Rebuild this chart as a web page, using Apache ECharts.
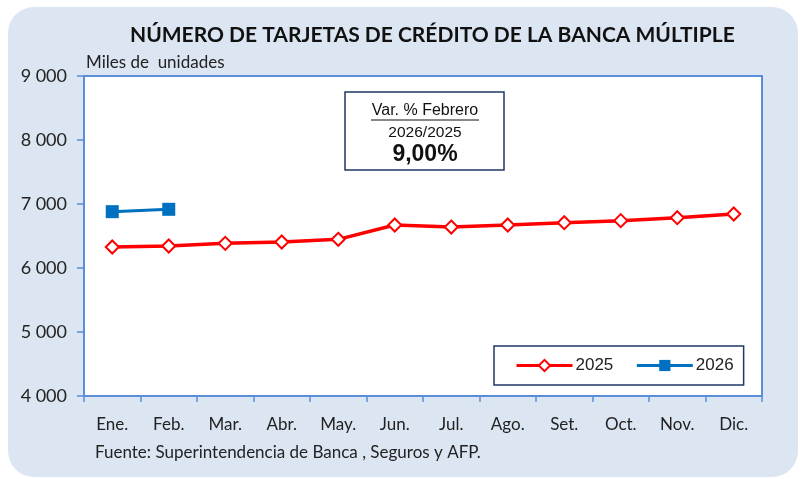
<!DOCTYPE html>
<html>
<head>
<meta charset="utf-8">
<script src="https://cdn.jsdelivr.net/npm/echarts@6/dist/echarts.min.js"></script>
<style>
html, body { margin: 0; padding: 0; background: #fff; }
#chart { width: 803px; height: 479px; }
</style>
</head>
<body>
<div id="chart"></div>
<script>
var months = ['Ene.', 'Feb.', 'Mar.', 'Abr.', 'May.', 'Jun.', 'Jul.', 'Ago.', 'Set.', 'Oct.', 'Nov.', 'Dic.'];
var data2025 = [6328, 6344, 6385, 6406, 6448, 6672, 6640, 6672, 6708, 6740, 6786, 6844];
var data2026 = [6880, 6917];
var yTicks = [4000, 5000, 6000, 7000, 8000, 9000];

var myChart = echarts.init(document.getElementById('chart'));
var axisBlue = '#5B8ED8';
var navy = '#1F3864';

option = {
    backgroundColor: '#fff',
    textStyle: { fontFamily: 'Lato' },
    graphic: [
        {
            type: 'rect', z: -10,
            shape: { x: 8, y: 7, width: 790, height: 470, r: 26 },
            style: { fill: '#DCE6F2' }
        },
        {
            type: 'text', left: 130, top: 25,
            style: { text: 'NÚMERO DE TARJETAS DE CRÉDITO DE LA BANCA MÚLTIPLE', font: 'bold 21px Lato', fill: '#111' }
        },
        {
            type: 'text', left: 86, top: 54,
            style: { text: 'Miles de  unidades', font: '17px Lato', fill: '#222' }
        },
        {
            type: 'text', left: 95, top: 444,
            style: { text: 'Fuente: Superintendencia de Banca , Seguros y AFP.', font: '17px Lato', fill: '#222' }
        },
        // caja de variación
        {
            type: 'rect', z: 10,
            shape: { x: 345, y: 92, width: 159, height: 78 },
            style: { fill: '#fff', stroke: navy, lineWidth: 1.5 }
        },
        {
            type: 'text', z: 11,
            style: { x: 425, y: 111, text: 'Var. % Febrero', align: 'center', verticalAlign: 'middle', font: '16px "Liberation Sans"', fill: '#111' }
        },
        {
            type: 'line', z: 11,
            shape: { x1: 371, y1: 120, x2: 479, y2: 120 },
            style: { stroke: '#111', lineWidth: 1 }
        },
        {
            type: 'text', z: 11,
            style: { x: 425, y: 133, text: '2026/2025', align: 'center', verticalAlign: 'middle', font: '15.5px "Liberation Sans"', fill: '#111' }
        },
        {
            type: 'text', z: 11,
            style: { x: 425, y: 155, text: '9,00%', align: 'center', verticalAlign: 'middle', font: 'bold 23px "Liberation Sans"', fill: '#111' }
        }
    ],
    legend: {
        left: 494, top: 346, width: 254, height: 40,
        padding: [11, 10, 11, 21],
        backgroundColor: '#fff',
        borderColor: navy,
        borderWidth: 1.5,
        borderRadius: 0,
        itemWidth: 56,
        itemHeight: 14,
        itemGap: 22,
        lineStyle: { width: 3 },
        textStyle: { fontFamily: 'Liberation Sans', fontSize: 17, color: '#222', padding: [0, 0, 0, -2] },
        data: ['2025', '2026']
    },
    grid: {
        left: 84, right: 41, top: 76, bottom: 83,
        show: true,
        backgroundColor: '#fff',
        borderColor: axisBlue,
        borderWidth: 2
    },
    xAxis: {
        type: 'category',
        data: months,
        boundaryGap: true,
        axisLine: { lineStyle: { color: axisBlue, width: 2 } },
        axisTick: { show: true, length: 6, lineStyle: { color: axisBlue, width: 1.5 } },
        axisLabel: { margin: 20, fontSize: 17, color: '#222', fontFamily: 'Lato' }
    },
    yAxis: {
        type: 'value',
        min: yTicks[0],
        max: yTicks[yTicks.length - 1],
        interval: 1000,
        splitLine: { show: false },
        axisLine: { show: true, lineStyle: { color: axisBlue, width: 2 } },
        axisTick: { show: true, length: 7, lineStyle: { color: axisBlue, width: 1.5 } },
        axisLabel: {
            margin: 17, fontSize: 18, color: '#222', fontFamily: 'Lato',
            formatter: function (v) { return String(v).replace(/\B(?=(\d{3})+(?!\d))/g, ' '); }
        }
    },
    series: [
        {
            name: '2025',
            type: 'line',
            data: data2025,
            symbol: 'diamond',
            symbolSize: 13,
            color: '#FF0000',
            lineStyle: { color: '#FF0000', width: 3.5 },
            itemStyle: { color: '#fff', borderColor: '#FF0000', borderWidth: 2 },
            z: 3
        },
        {
            name: '2026',
            type: 'line',
            data: data2026,
            symbol: 'rect',
            symbolSize: 13,
            color: '#0070C0',
            lineStyle: { color: '#0070C0', width: 3 },
            itemStyle: { color: '#0070C0' },
            z: 4
        }
    ]
};
myChart.setOption(option);
</script>
</body>
</html>
